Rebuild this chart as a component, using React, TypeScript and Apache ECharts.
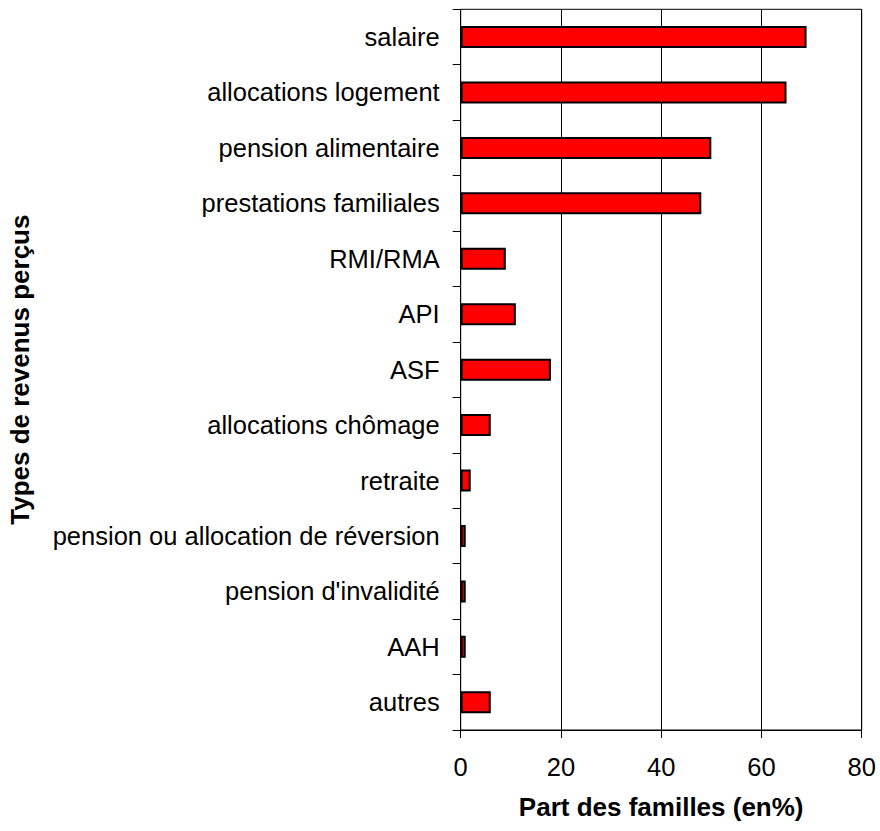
import React, { useEffect, useRef } from "react";
import * as echarts from "echarts";

const categories = [
  "salaire",
  "allocations logement",
  "pension alimentaire",
  "prestations familiales",
  "RMI/RMA",
  "API",
  "ASF",
  "allocations chômage",
  "retraite",
  "pension ou allocation de réversion",
  "pension d'invalidité",
  "AAH",
  "autres",
];
const values = [69, 65, 50, 48, 9, 11, 18, 6, 2, 1, 1, 1, 6];
const xTicks = { min: 0, max: 80, interval: 20 };
const xAxisTitle = "Part des familles (en%)";
const yAxisTitle = "Types de revenus perçus";

export default function App() {
  const ref = useRef<HTMLDivElement>(null);
  useEffect(() => {
    if (!ref.current) return;
    const chart = echarts.init(ref.current, undefined, { renderer: "svg" });
    const font = "'Liberation Sans', Arial, sans-serif";
    chart.setOption({
      animation: false,
      backgroundColor: "#ffffff",
      textStyle: { fontFamily: font },
      grid: {
        left: 460.7,
        right: 18.3,
        top: 9.3,
        bottom: 101,
        show: true,
        borderColor: "#000",
        borderWidth: 1,
        backgroundColor: "transparent",
      },
      xAxis: {
        type: "value",
        min: xTicks.min,
        max: xTicks.max,
        interval: xTicks.interval,
        name: xAxisTitle,
        nameLocation: "middle",
        nameGap: 64,
        nameTextStyle: { fontSize: 26, fontWeight: "bold", color: "#000", fontFamily: font },
        axisLine: { show: true, lineStyle: { color: "#000", width: 1 } },
        axisTick: { show: true, length: 8, inside: false, lineStyle: { color: "#000" } },
        axisLabel: { fontSize: 25.5, color: "#000", margin: 24, fontFamily: font },
        splitLine: { show: true, lineStyle: { color: "#000", width: 1 } },
      },
      yAxis: {
        type: "category",
        data: categories,
        inverse: true,
        name: yAxisTitle,
        nameLocation: "middle",
        nameRotate: 90,
        nameGap: 428,
        nameTextStyle: { fontSize: 26, fontWeight: "bold", color: "#000", fontFamily: font },
        axisLine: { show: true, lineStyle: { color: "#000", width: 1 } },
        axisTick: { show: true, length: 8, inside: false, alignWithLabel: false, lineStyle: { color: "#000" } },
        axisLabel: { fontSize: 25.5, color: "#000", margin: 21, fontFamily: font },
        splitLine: { show: false },
      },
      series: [
        {
          type: "bar",
          data: values,
          barWidth: 22,
          itemStyle: { color: "#ff0000", borderColor: "#000", borderWidth: 2 },
        },
      ],
    });
    return () => chart.dispose();
  }, []);
  return (
    <div
      ref={ref}
      style={{ position: "fixed", left: 0, top: 0, width: 880, height: 831, background: "#fff" }}
    />
  );
}
